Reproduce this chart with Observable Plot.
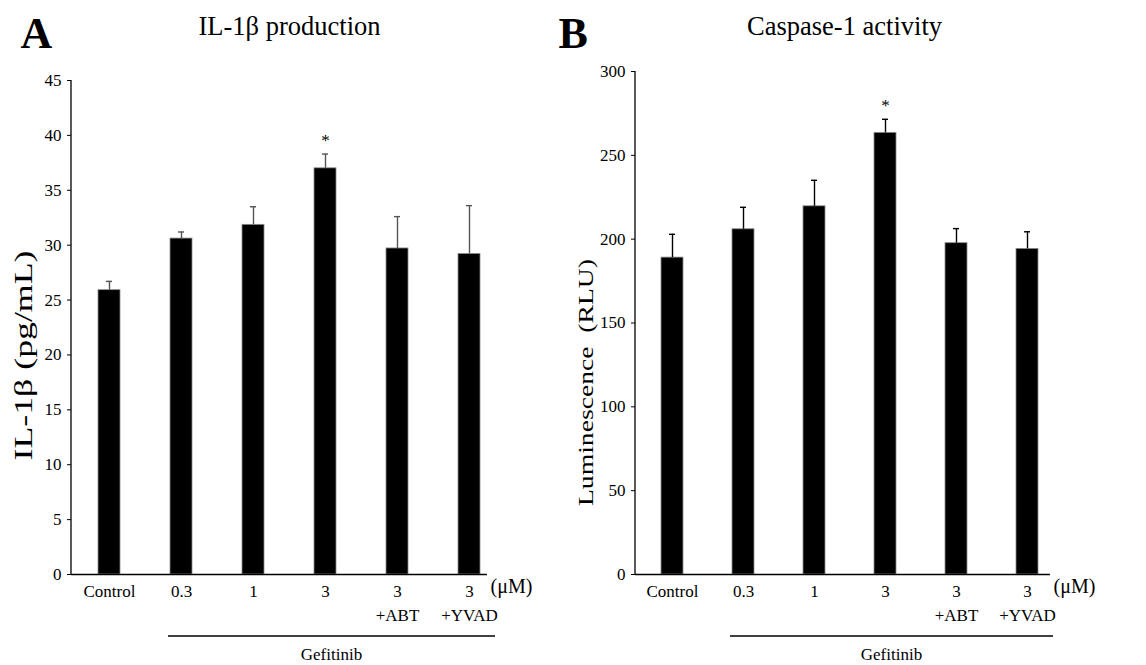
<!DOCTYPE html>
<html><head><meta charset="utf-8">
<script src="https://cdn.jsdelivr.net/npm/d3@7"></script>
<script src="https://cdn.jsdelivr.net/npm/@observablehq/plot@0.6"></script>
<style>
body{margin:0;background:#fff;}
#wrap{display:flex;width:1146px;height:665px;}
#wrap svg{overflow:visible;}
#wrap svg text{font-family:'Liberation Serif','Times New Roman',serif !important;}
</style></head><body><div id="wrap"></div>
<script>
// ---- data ----
const categories = ["Control", "0.3", "1", "3", "3+ABT", "3+YVAD"];
const tickLabels = ["Control", "0.3", "1", "3", "3\n+ABT", "3\n+YVAD"];
const significance = ["", "", "", "*", "", ""];
const il1bMean = [25.9, 30.6, 31.85, 37.0, 29.7, 29.2];
const il1bSD = [0.8, 0.6, 1.65, 1.3, 2.9, 4.4];
const il1bTicks = [0, 5, 10, 15, 20, 25, 30, 35, 40, 45];
const caspMean = [189.0, 205.9, 219.6, 263.4, 197.6, 194.2];
const caspSD = [13.9, 13.1, 15.5, 8.1, 8.7, 10.2];
const caspTicks = [0, 50, 100, 150, 200, 250, 300];
const groupLabel = "Gefitinib";
const unitLabel = "(μM)";

const FONT = "'Liberation Serif','Times New Roman',serif";

function panel(cfg) {
  const data = categories.map((c, i) => ({
    c, mean: cfg.mean[i], top: cfg.mean[i] + cfg.sd[i], sig: significance[i]
  }));
  const W = 573, H = 665, mb = 91;
  const frameMidY = (cfg.mt + (H - mb)) / 2;
  const chart = Plot.plot({
    width: W, height: H,
    marginLeft: cfg.ml, marginRight: cfg.mr, marginTop: cfg.mt, marginBottom: mb,
    style: {fontFamily: FONT, background: "white", color: "#000", overflow: "visible"},
    x: {domain: categories, range: [cfg.ml, cfg.bandEnd], paddingInner: 0.69, paddingOuter: 0.345},
    y: {domain: [0, cfg.ticks[cfg.ticks.length - 1]]},
    marks: [
      Plot.barY(data, {x: "c", y: "mean", fill: "#000", stroke: "#8a8a8a", strokeWidth: 0.8}),
      Plot.ruleX(data, {x: "c", y1: "mean", y2: "top", stroke: cfg.errColor, strokeWidth: 1.4}),
      Plot.tickY(data, {x: "c", y: "top", stroke: cfg.errColor, strokeWidth: 1.4, insetLeft: 8, insetRight: 8}),
      Plot.text(data.filter(d => d.sig), {x: "c", y: "top", text: "sig", dy: -14, fontSize: 17}),
      Plot.axisY({ticks: cfg.ticks, tickSize: 4, tickPadding: 6, fontSize: 17, label: null}),
      Plot.axisX({tickSize: 0, tickPadding: 6, fontSize: 17, lineHeight: 1.4, label: null,
        tickFormat: d => tickLabels[categories.indexOf(d)]}),
      Plot.ruleY([0], {strokeWidth: 1.5}),
      Plot.text([unitLabel], {frameAnchor: "bottom-right", textAnchor: "start", dx: 3, dy: 18, fontSize: 20}),
      Plot.text([cfg.title], {frameAnchor: "top", dx: cfg.titleDx, dy: cfg.titleDy, fontSize: 26.5}),
      Plot.text([cfg.letter], {frameAnchor: "top-left", textAnchor: "start", dx: cfg.letterDx, dy: cfg.letterDy, fontSize: 44, fontWeight: "bold"}),
      Plot.text([cfg.yLabel], {frameAnchor: "left", textAnchor: "middle", rotate: -90, dx: cfg.ylabDx, dy: cfg.ylabMid - frameMidY, fontSize: cfg.ylabSize, className: "ylab"})
    ]
  });
  const xs = chart.scale("x"), ys = chart.scale("y");
  const svg = d3.select(chart);
  // stretch the rotated axis title to the reference's length
  svg.selectAll(".ylab text").attr("textLength", cfg.ylabLen).attr("lengthAdjust", "spacingAndGlyphs");
  // vertical axis line, from the y scale
  const yTop = ys.apply(cfg.ticks[cfg.ticks.length - 1]);
  const y0 = ys.apply(0);
  svg.append("line").attr("x1", cfg.ml).attr("x2", cfg.ml).attr("y1", yTop).attr("y2", y0)
    .attr("stroke", "#000").attr("stroke-width", 1.3);
  // group bracket below the axis, positioned from the library's scales
  const bw = xs.bandwidth;
  const x1 = xs.apply("0.3") - 2;
  const x2 = xs.apply("3+YVAD") + bw + 15;
  svg.append("line").attr("x1", x1).attr("x2", x2).attr("y1", y0 + 62).attr("y2", y0 + 62)
    .attr("stroke", "#000").attr("stroke-width", 1.3);
  svg.append("text").attr("x", (x1 + x2) / 2).attr("y", y0 + 81).attr("dy", "0.32em")
    .attr("text-anchor", "middle").attr("font-size", 17).text(groupLabel);
  return chart;
}

const wrap = document.getElementById("wrap");
wrap.appendChild(panel({
  letter: "A", title: "IL-1β production", yLabel: "IL-1β (pg/mL)",
  mean: il1bMean, sd: il1bSD, ticks: il1bTicks,
  ml: 71, mr: 86, mt: 80, bandEnd: 507, errColor: "#555",
  titleDx: 10, titleDy: -64, letterDx: -51, letterDy: -64,
  ylabDx: -48, ylabMid: 355, ylabSize: 25, ylabLen: 210
}));
wrap.appendChild(panel({
  letter: "B", title: "Caspase-1 activity", yLabel: "Luminescence  (RLU)",
  mean: caspMean, sd: caspSD, ticks: caspTicks,
  ml: 62, mr: 96, mt: 71, bandEnd: 492, errColor: "#000",
  titleDx: 1.5, titleDy: -55, letterDx: -77, letterDy: -55,
  ylabDx: -50, ylabMid: 382, ylabSize: 22, ylabLen: 247
}));
</script></body></html>
